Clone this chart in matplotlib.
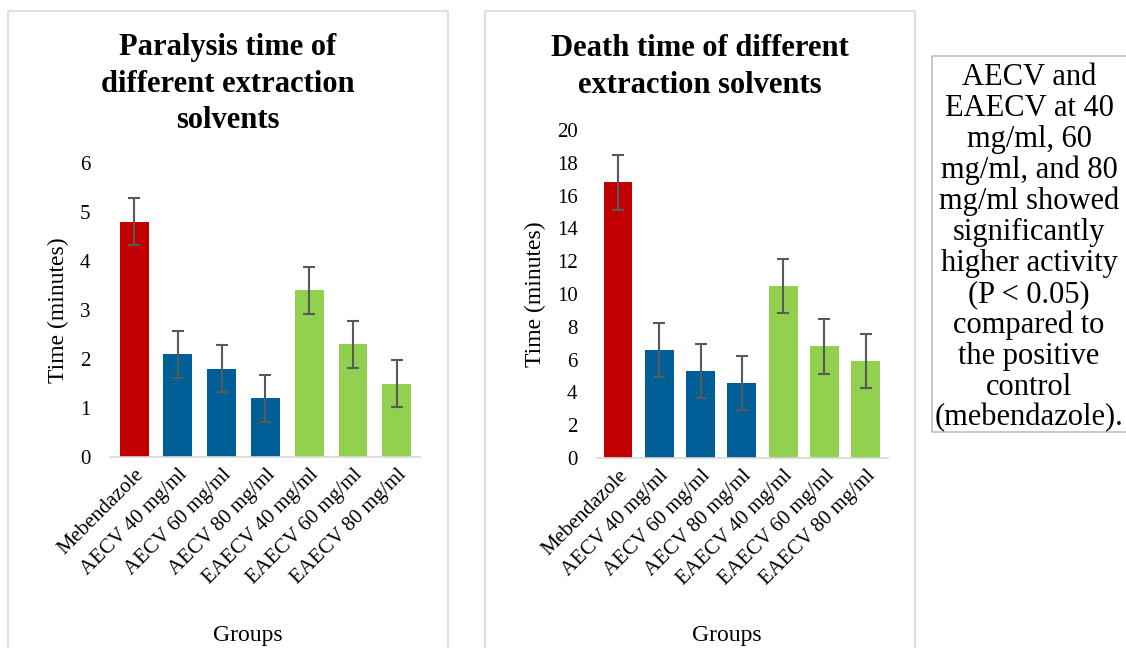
import numpy as np
import matplotlib.pyplot as plt
from matplotlib.patches import Rectangle

plt.rcParams['font.family'] = ['Liberation Serif', 'DejaVu Serif']

groups = ['Mebendazole', 'AECV 40 mg/ml', 'AECV 60 mg/ml', 'AECV 80 mg/ml',
          'EAECV 40 mg/ml', 'EAECV 60 mg/ml', 'EAECV 80 mg/ml']
paralysis = [4.8, 2.1, 1.8, 1.2, 3.4, 2.3, 1.5]
paralysis_err = [0.48, 0.48, 0.48, 0.48, 0.48, 0.48, 0.48]
death = [16.8, 6.6, 5.3, 4.6, 10.5, 6.8, 5.9]
death_err = [1.65, 1.65, 1.65, 1.65, 1.65, 1.65, 1.65]
colors = ['#C00000', '#005F96', '#005F96', '#005F96', '#92D050', '#92D050', '#92D050']

note = ("AECV and\nEAECV at 40\nmg/ml, 60\nmg/ml, and 80\nmg/ml showed\nsignificantly\n"
        "higher activity\n(P < 0.05)\ncompared to\nthe positive\ncontrol\n(mebendazole).")

W, H = 1126, 648
fig = plt.figure(figsize=(W / 100, H / 100), dpi=100)

def fx(px):
    return px / W

def fy(py):
    return 1 - py / H

# panel frames
for x0, x1 in [(8, 448), (485, 915)]:
    fig.patches.append(Rectangle((fx(x0), fy(700)), fx(x1 - x0), (700 - 11) / H,
                                 transform=fig.transFigure, fill=False,
                                 edgecolor='#D9D9D9', linewidth=1.2))
fig.patches.append(Rectangle((fx(932), fy(432)), fx(220), (432 - 56) / H,
                             transform=fig.transFigure, fill=False,
                             edgecolor='#BFBFBF', linewidth=1.2))

def panel(rect, vals, errs, ylim, yticks, width, xlim):
    ax = fig.add_axes(rect)
    x = np.arange(len(groups))
    ax.bar(x, vals, width, color=colors, zorder=2)
    ax.errorbar(x, vals, yerr=errs, fmt='none', ecolor='#595959',
                elinewidth=1.5, capsize=4, capthick=1.5, zorder=3)
    ax.set_ylim(*ylim)
    ax.set_xlim(*xlim)
    ax.set_yticks(yticks)
    ax.set_xticks(x)
    ax.set_xticklabels(groups, rotation=45, ha='right', rotation_mode='anchor', fontsize=15)
    ax.tick_params(axis='both', length=0, labelsize=15, colors='#000000')
    ax.tick_params(axis='y', pad=14)
    ax.tick_params(axis='x', pad=6)
    for s in ['top', 'right', 'left']:
        ax.spines[s].set_visible(False)
    ax.spines['bottom'].set_color('#D9D9D9')
    ax.spines['bottom'].set_linewidth(1.2)
    ax.set_ylabel('Time (minutes)', fontsize=17, labelpad=8)
    ax.patch.set_alpha(0)
    return ax

panel([fx(110), fy(457), fx(310), 294 / H], paralysis, paralysis_err,
      (0, 6), range(0, 7), 0.66, (-0.55, 6.53))
panel([fx(597), fy(458), fx(291), 328 / H], death, death_err,
      (0, 20), range(0, 21, 2), 0.7, (-0.51, 6.54))

fig.text(fx(228), fy(84), 'Paralysis time of\ndifferent extraction\nsolvents',
         ha='center', va='center', fontsize=22, fontweight='bold', linespacing=1.33)
fig.text(fx(700), fy(67), 'Death time of different\nextraction solvents',
         ha='center', va='center', fontsize=22, fontweight='bold', linespacing=1.33)
fig.text(fx(248), fy(636), 'Groups', ha='center', va='center', fontsize=17)
fig.text(fx(727), fy(636), 'Groups', ha='center', va='center', fontsize=17)
fig.text(fx(1029), fy(248), note, ha='center', va='center', fontsize=22, linespacing=1.08)

fig.savefig('out.png', dpi=100)
